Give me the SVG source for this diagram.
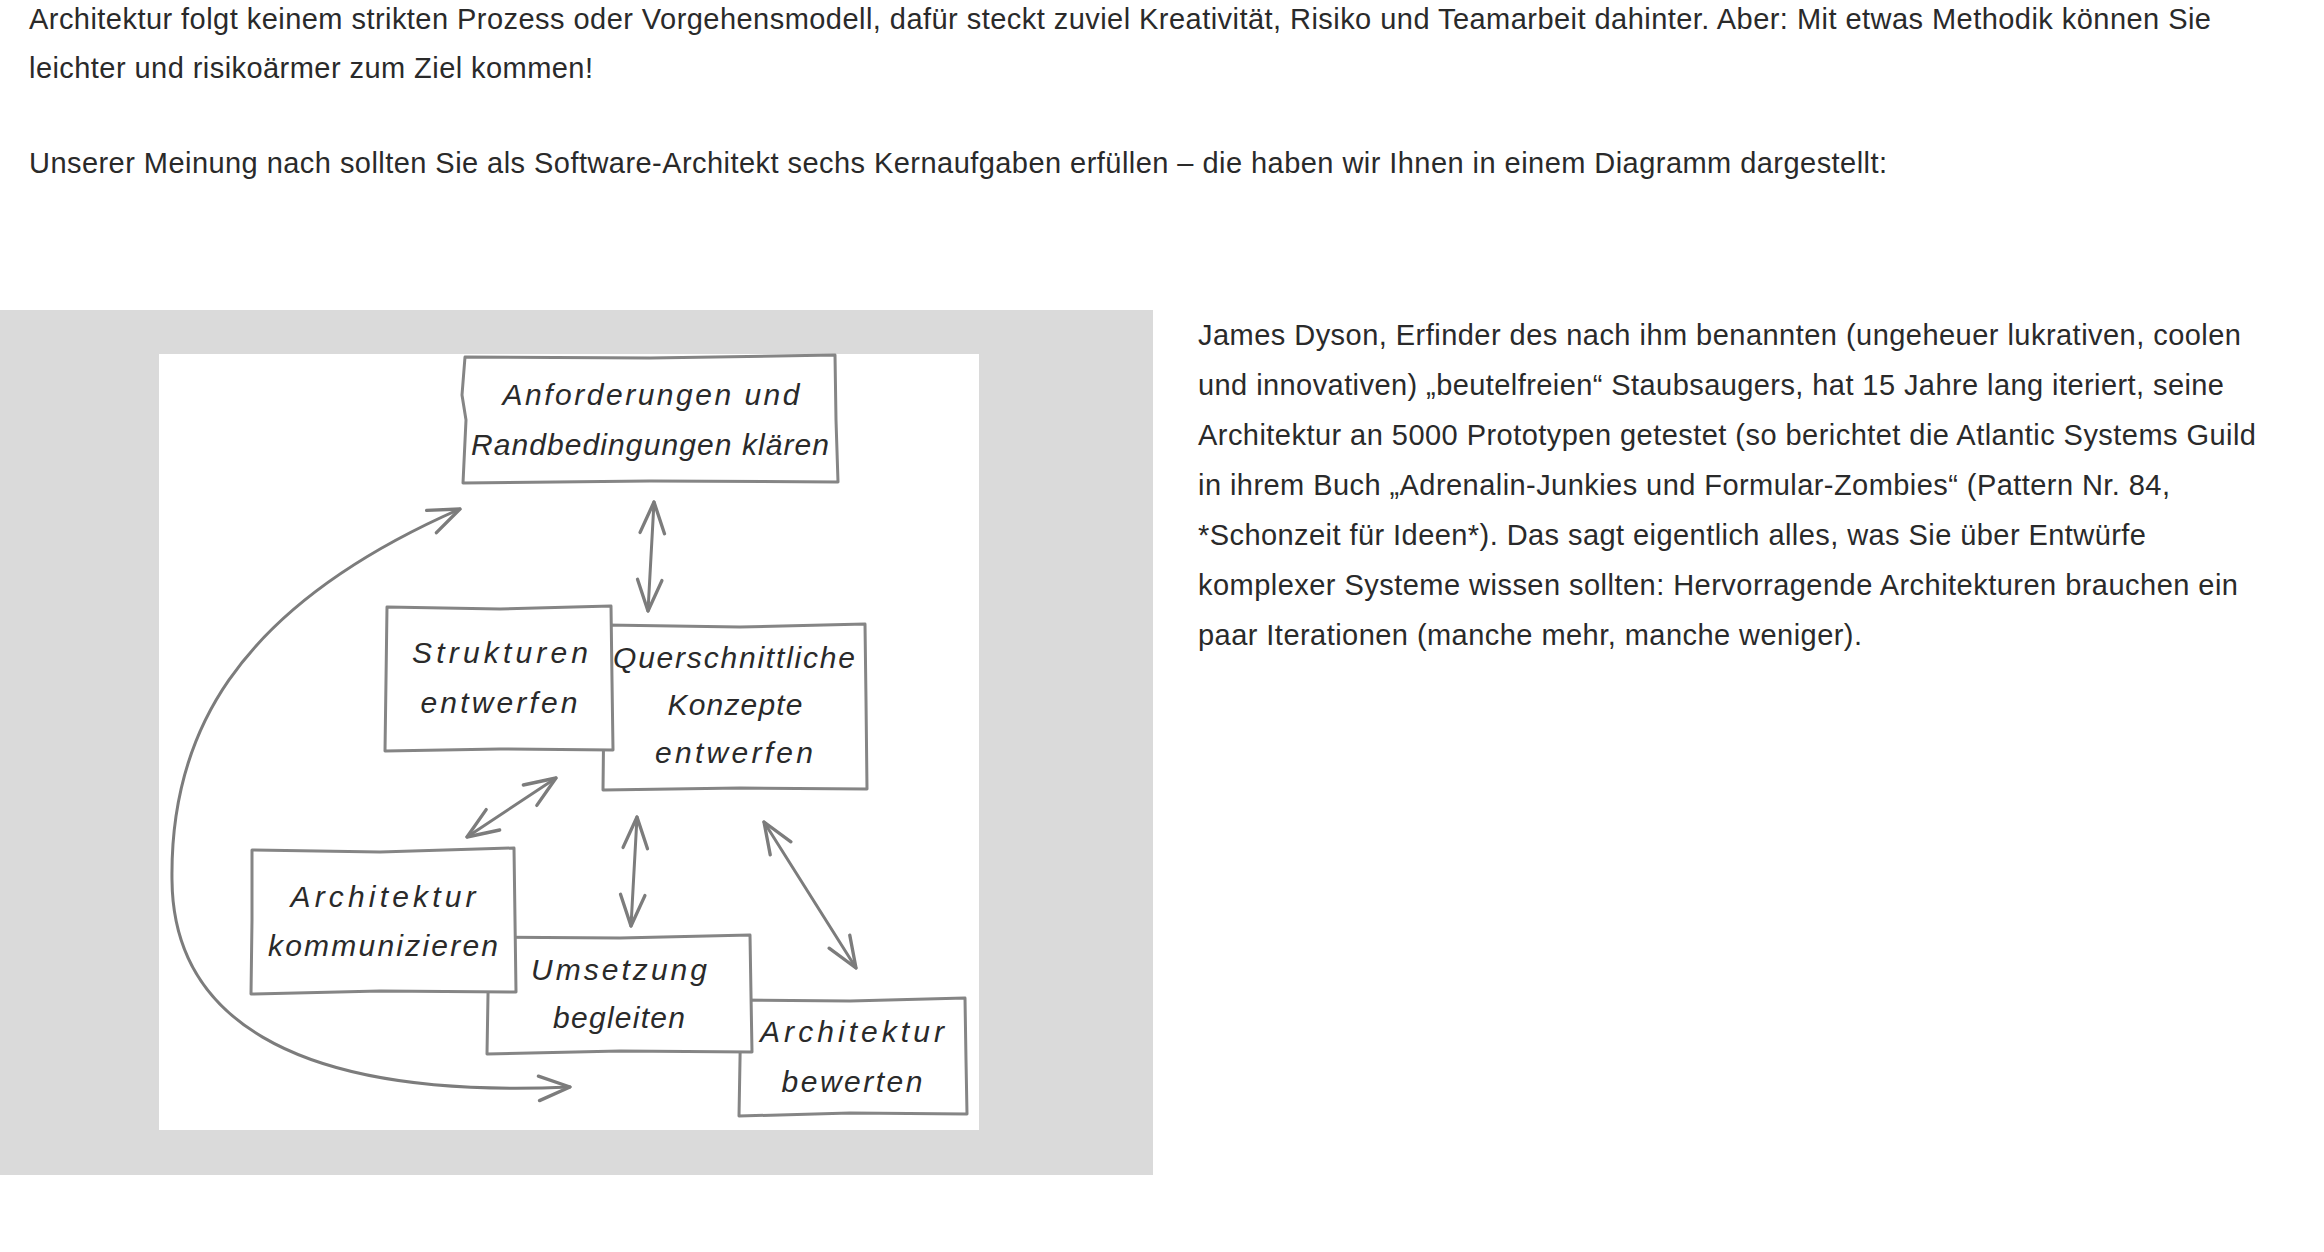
<svg xmlns="http://www.w3.org/2000/svg" width="2324" height="1252" viewBox="0 0 2324 1252">
<style>
.p{font-family:"Liberation Sans",Arial,sans-serif;font-size:29px;fill:#2a2a2a}
.h{font-family:"Liberation Sans",Arial,sans-serif;font-style:italic;font-size:30px;fill:#2a2a2a;text-anchor:middle}
.box{fill:#fff;stroke:#858585;stroke-width:3;stroke-linejoin:round}
.con{fill:none;stroke:#7c7c7c;stroke-width:3;stroke-linecap:round}
</style>
<defs>
<marker id="ah" markerUnits="userSpaceOnUse" markerWidth="40" markerHeight="40" viewBox="-32 -16 36 32" refX="0" refY="0" orient="auto-start-reverse">
<path d="M-28 -11 L0 0 L-28 11" fill="none" stroke="#7c7c7c" stroke-width="3" stroke-linecap="round" stroke-linejoin="round"/>
</marker>
</defs>
<rect width="2324" height="1252" fill="#fff"/>
<g id="text-top">
<text class="p" x="29" y="29" textLength="2182" lengthAdjust="spacing">Architektur folgt keinem strikten Prozess oder Vorgehensmodell, dafür steckt zuviel Kreativität, Risiko und Teamarbeit dahinter. Aber: Mit etwas Methodik können Sie</text>
<text class="p" x="29" y="78" textLength="564" lengthAdjust="spacing">leichter und risikoärmer zum Ziel kommen!</text>
<text class="p" x="29" y="173" textLength="1858" lengthAdjust="spacing">Unserer Meinung nach sollten Sie als Software-Architekt sechs Kernaufgaben erfüllen – die haben wir Ihnen in einem Diagramm dargestellt:</text>
</g>
<g id="text-right">
<text class="p" x="1198" y="345" textLength="1043" lengthAdjust="spacing">James Dyson, Erfinder des nach ihm benannten (ungeheuer lukrativen, coolen</text>
<text class="p" x="1198" y="395" textLength="1026" lengthAdjust="spacing">und innovativen) „beutelfreien“ Staubsaugers, hat 15 Jahre lang iteriert, seine</text>
<text class="p" x="1198" y="445" textLength="1058" lengthAdjust="spacing">Architektur an 5000 Prototypen getestet (so berichtet die Atlantic Systems Guild</text>
<text class="p" x="1198" y="495" textLength="972" lengthAdjust="spacing">in ihrem Buch „Adrenalin-Junkies und Formular-Zombies“ (Pattern Nr. 84,</text>
<text class="p" x="1198" y="545" textLength="948" lengthAdjust="spacing">*Schonzeit für Ideen*). Das sagt eigentlich alles, was Sie über Entwürfe</text>
<text class="p" x="1198" y="595" textLength="1040" lengthAdjust="spacing">komplexer Systeme wissen sollten: Hervorragende Architekturen brauchen ein</text>
<text class="p" x="1198" y="645" textLength="664" lengthAdjust="spacing">paar Iterationen (manche mehr, manche weniger).</text>
</g>
<rect id="panel" x="0" y="310" width="1153" height="865" fill="#dadada"/>
<rect id="canvas" x="159" y="354" width="820" height="776" fill="#fff"/>
<g id="connectors">
<path class="con" d="M654 502 L648 611" marker-start="url(#ah)" marker-end="url(#ah)"/>
<path class="con" d="M556 778 L467 837" marker-start="url(#ah)" marker-end="url(#ah)"/>
<path class="con" d="M637 817 L631 926" marker-start="url(#ah)" marker-end="url(#ah)"/>
<path class="con" d="M764 822 L856 968" marker-start="url(#ah)" marker-end="url(#ah)"/>
<path class="con" d="M460 509 C230 610, 170 740, 172 880 C173 1010, 280 1100, 570 1087" marker-start="url(#ah)" marker-end="url(#ah)"/>
</g>
<g id="n1">
<path class="box" d="M465 357 L650 358 L835 355 L836 420 L838 482 L650 481 L463 483 L466 420 L462 395 Z"/>
<text class="h" x="651" y="405" textLength="297" lengthAdjust="spacing">Anforderungen und</text>
<text class="h" x="650" y="455" textLength="358" lengthAdjust="spacing">Randbedingungen klären</text>
</g>
<g id="n3">
<path class="box" d="M606 625 L740 627 L865 624 L866 700 L867 789 L740 788 L603 790 L604 700 Z"/>
<text class="h" x="734" y="668" textLength="242" lengthAdjust="spacing">Querschnittliche</text>
<text class="h" x="735" y="715" textLength="135" lengthAdjust="spacing">Konzepte</text>
<text class="h" x="734" y="763" textLength="158" lengthAdjust="spacing">entwerfen</text>
</g>
<g id="n2">
<path class="box" d="M387 607 L500 609 L611 606 L612 680 L613 750 L500 749 L385 751 L386 680 Z"/>
<text class="h" x="500" y="663" textLength="176" lengthAdjust="spacing">Strukturen</text>
<text class="h" x="499" y="713" textLength="157" lengthAdjust="spacing">entwerfen</text>
</g>
<g id="n6">
<path class="box" d="M741 1000 L850 1001 L965 998 L966 1060 L967 1114 L850 1113 L739 1116 L740 1060 Z"/>
<text class="h" x="852" y="1042" textLength="184" lengthAdjust="spacing">Architektur</text>
<text class="h" x="852" y="1092" textLength="141" lengthAdjust="spacing">bewerten</text>
</g>
<g id="n5">
<path class="box" d="M489 937 L620 938 L750 935 L751 995 L752 1052 L620 1051 L487 1054 L488 995 Z"/>
<text class="h" x="619" y="980" textLength="176" lengthAdjust="spacing">Umsetzung</text>
<text class="h" x="619" y="1028" textLength="132" lengthAdjust="spacing">begleiten</text>
</g>
<g id="n4">
<path class="box" d="M252 850 L380 852 L514 848 L515 920 L516 992 L380 991 L251 994 L252 920 Z"/>
<text class="h" x="383" y="907" textLength="185" lengthAdjust="spacing">Architektur</text>
<text class="h" x="383" y="956" textLength="230" lengthAdjust="spacing">kommunizieren</text>
</g>
</svg>
